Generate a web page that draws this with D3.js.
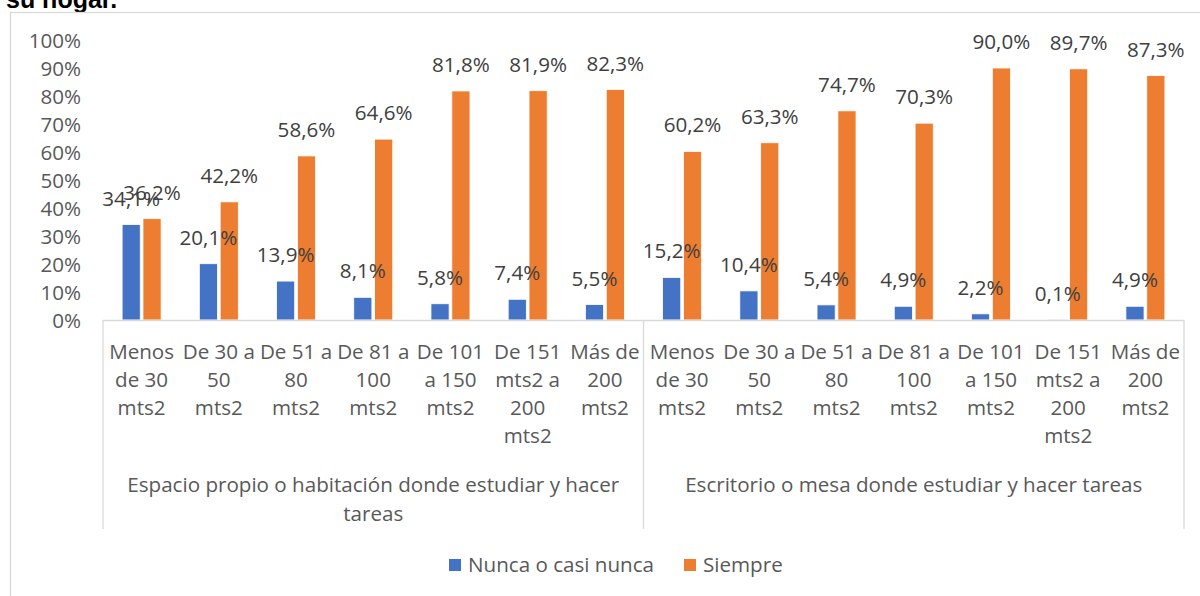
<!DOCTYPE html>
<html>
<head>
<meta charset="utf-8">
<script src="https://cdn.jsdelivr.net/npm/d3@7/dist/d3.min.js"></script>
<style>
  html, body { margin: 0; padding: 0; background: #fff; }
  svg { display: block; }
  text { font-family: "Open Sans", Lato, sans-serif; }
</style>
</head>
<body>
<svg id="chart" width="1200" height="596"></svg>
<script>
// ---------- data ----------
const categories = [
  "Menos|de 30|mts2", "De 30 a|50|mts2", "De 51 a|80|mts2", "De 81 a|100|mts2",
  "De 101|a 150|mts2", "De 151|mts2 a|200|mts2", "Más de|200|mts2",
  "Menos|de 30|mts2", "De 30 a|50|mts2", "De 51 a|80|mts2", "De 81 a|100|mts2",
  "De 101|a 150|mts2", "De 151|mts2 a|200|mts2", "Más de|200|mts2"
];
const groups = [
  ["Espacio propio o habitación donde estudiar y hacer", "tareas"],
  ["Escritorio o mesa donde estudiar y hacer tareas"]
];
const groupSize = 7;
const seriesNames = ["Nunca o casi nunca", "Siempre"];
const nunca = [34.1, 20.1, 13.9, 8.1, 5.8, 7.4, 5.5, 15.2, 10.4, 5.4, 4.9, 2.2, 0.1, 4.9];
const siempre = [36.2, 42.2, 58.6, 64.6, 81.8, 81.9, 82.3, 60.2, 63.3, 74.7, 70.3, 90.0, 89.7, 87.3];
const yTicks = [0, 10, 20, 30, 40, 50, 60, 70, 80, 90, 100];
const colors = ["#4472C4", "#ED7D31"];
const title = "su hogar.";

// ---------- layout ----------
const svg = d3.select("#chart");
const plotLeft = 103, plotRight = 1184, plotTop = 40, plotBottom = 320;
const textColor = "#595959";
const lineColor = "#D9D9D9";
const fs = 20.6;

// title (clipped at top)
svg.append("text").attr("x", 6).attr("y", 8)
  .attr("font-weight", "bold").attr("font-size", 25).attr("fill", "#000")
  .style("font-family", "'Liberation Sans', Arial, sans-serif")
  .text(title);

// chart border
svg.append("rect").attr("x", 10.5).attr("y", 12.5).attr("width", 1200).attr("height", 600)
  .attr("fill", "none").attr("stroke", lineColor).attr("stroke-width", 1.3);

const idx = d3.range(categories.length);
const x0 = d3.scaleBand().domain(idx).range([plotLeft, plotRight]).paddingInner(0).paddingOuter(0);
const bw = x0.bandwidth();
const x1 = d3.scaleBand().domain([0, 1]).range([bw / 2 - 19.5, bw / 2 + 19.5]).paddingInner(0.13);
const y = d3.scaleLinear().domain([0, 100]).range([plotBottom, plotTop]);

// y axis
const yAxis = d3.axisLeft(y).tickValues(yTicks).tickSize(0).tickPadding(0)
  .tickFormat(d => d + "%");
const gy = svg.append("g").attr("transform", "translate(81,0)").call(yAxis);
gy.select(".domain").remove();
gy.selectAll("text").attr("fill", textColor).attr("font-size", fs)
  .style("font-family", "'Open Sans', Lato, sans-serif").attr("dy", "0.35em");

// bars
const seriesData = [nunca, siempre];
const barG = svg.append("g");
const labG = svg.append("g");
seriesData.forEach((vals, s) => {
  barG.append("g").selectAll("rect").data(vals).join("rect")
    .attr("x", (d, i) => x0(i) + x1(s))
    .attr("width", x1.bandwidth())
    .attr("y", d => y(d))
    .attr("height", d => y(0) - y(d))
    .attr("fill", colors[s])
    .attr("stroke", "#fff").attr("stroke-width", 0.8);
  labG.append("g").selectAll("text").data(vals).join("text")
    .attr("x", (d, i) => x0(i) + x1(s) + x1.bandwidth() / 2)
    .attr("y", d => y(d) - 19)
    .attr("text-anchor", "middle")
    .attr("font-size", fs)
    .attr("fill", "#404040")
    .text(d => d.toFixed(1).replace(".", ",") + "%");
});

// x axis line
svg.append("line").attr("x1", plotLeft).attr("x2", plotRight)
  .attr("y1", plotBottom + 0.5).attr("y2", plotBottom + 0.5)
  .attr("stroke", lineColor).attr("stroke-width", 1.3);

// group dividers
const dividers = [0, groupSize, categories.length];
dividers.forEach(i => {
  const xx = i < categories.length ? x0(i) : plotRight;
  svg.append("line").attr("x1", xx).attr("x2", xx).attr("y1", plotBottom).attr("y2", 529)
    .attr("stroke", lineColor).attr("stroke-width", 1.3);
});

// category labels
const catG = svg.append("g");
categories.forEach((c, i) => {
  const lines = c.split("|");
  const t = catG.append("text").attr("text-anchor", "middle")
    .attr("font-size", fs).attr("fill", textColor);
  lines.forEach((ln, k) => {
    t.append("tspan").attr("x", x0(i) + bw / 2).attr("y", 352 + k * 28).attr("dy", "0.35em").text(ln);
  });
});

// group labels
groups.forEach((g, gi) => {
  const start = x0(gi * groupSize);
  const end = gi * groupSize + groupSize < categories.length ? x0(gi * groupSize + groupSize) : plotRight;
  const t = svg.append("text").attr("text-anchor", "middle").attr("font-size", fs).attr("fill", textColor);
  g.forEach((ln, k) => {
    t.append("tspan").attr("x", (start + end) / 2).attr("y", 485 + k * 29).attr("dy", "0.35em").text(ln);
  });
});

// legend
const legendX = [449, 684];
seriesNames.forEach((n, s) => {
  svg.append("rect").attr("x", legendX[s]).attr("y", 559).attr("width", 12).attr("height", 12)
    .attr("fill", colors[s]);
  svg.append("text").attr("x", legendX[s] + 19).attr("y", 565).attr("dy", "0.35em")
    .attr("font-size", fs).attr("fill", textColor).text(n);
});
</script>
</body>
</html>
